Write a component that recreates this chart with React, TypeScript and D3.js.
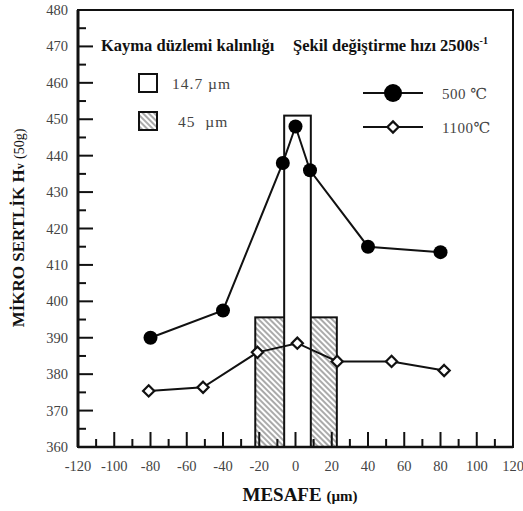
import React from "react";
import * as d3 from "d3";

// 500 °C series (filled circles)
const dist500 = [-80, -40, -7, 0, 8, 40, 80];
const hard500 = [390, 397.5, 438, 448, 436, 415, 413.5];

// 1100 °C series (open diamonds)
const dist1100 = [-81, -51, -21, 1, 23, 53, 82];
const hard1100 = [375.4, 376.4, 386, 388.5, 383.5, 383.5, 381];

// shear band thickness bars
const bandLabels = ["45  µm", "14.7 µm"];
const bandWidths = [45, 14.7];
const bandCenters = [0.3, 1.1];
const bandTops = [395.6, 451];

const xTicks = [-120, -100, -80, -60, -40, -20, 0, 20, 40, 60, 80, 100, 120];
const yTicks = [360, 370, 380, 390, 400, 410, 420, 430, 440, 450, 460, 470, 480];

const W = 523;
const H = 511;
const serif = "Liberation Serif, DejaVu Serif, Times New Roman, serif";

const App = () => {
  const x = d3.scaleLinear().domain([-120, 120]).range([78, 513]);
  const y = d3.scaleLinear().domain([360, 480]).range([447, 10]);

  const s500 = dist500.map((d, i) => ({ x: d, y: hard500[i] }));
  const s1100 = dist1100.map((d, i) => ({ x: d, y: hard1100[i] }));

  const line = d3.line<{ x: number; y: number }>()
    .x(d => x(d.x))
    .y(d => y(d.y));

  const minorX = d3.range(-110, 120, 20);
  const majorX = xTicks.filter(t => t > -120 && t < 120);
  const minorY = d3.range(365, 480, 10);
  const majorY = yTicks.filter(t => t > 360 && t < 480);

  const diamond = d3.symbol().type(d3.symbolDiamond2).size(80);
  const bottom = y(360);

  return (
    <svg width={W} height={H} style={{ position: "absolute", left: 0, top: 0, background: "#fff", fontFamily: serif }}>
      <defs>
        <pattern id="hatch" width="4" height="4" patternUnits="userSpaceOnUse" patternTransform="rotate(-45)">
          <line x1="1" y1="0" x2="1" y2="4" stroke="#555" strokeWidth="1" />
        </pattern>
      </defs>

      {/* bars: wide hatched first, narrow open on top */}
      {bandWidths.map((w, i) => (
        <rect
          key={i}
          x={x(bandCenters[i] - w / 2)}
          y={y(bandTops[i])}
          width={x(w) - x(0)}
          height={bottom - y(bandTops[i])}
          fill={i === 0 ? "url(#hatch)" : "#fff"}
          stroke="#111"
          strokeWidth={2}
        />
      ))}

      {/* frame */}
      <rect x={x(-120)} y={y(480)} width={x(120) - x(-120)} height={bottom - y(480)} fill="none" stroke="#111" strokeWidth={2} />
      <line x1={x(-120)} x2={x(-120)} y1={y(480)} y2={bottom} stroke="#111" strokeWidth={3} />
      <line x1={x(-120)} x2={x(120)} y1={bottom} y2={bottom} stroke="#111" strokeWidth={2.5} />

      {/* x ticks */}
      {majorX.map(t => (
        <line key={"mx" + t} x1={x(t)} x2={x(t)} y1={bottom} y2={bottom - 15} stroke="#111" strokeWidth={2} />
      ))}
      {minorX.map(t => (
        <line key={"nx" + t} x1={x(t)} x2={x(t)} y1={bottom} y2={bottom - 8} stroke="#111" strokeWidth={2} />
      ))}
      {/* y ticks */}
      {majorY.map(t => (
        <line key={"my" + t} x1={x(-120)} x2={x(-120) + 15} y1={y(t)} y2={y(t)} stroke="#111" strokeWidth={2} />
      ))}
      {minorY.map(t => (
        <line key={"ny" + t} x1={x(-120)} x2={x(-120) + 8} y1={y(t)} y2={y(t)} stroke="#111" strokeWidth={2} />
      ))}

      {/* tick labels */}
      {xTicks.map(t => (
        <text key={"tx" + t} x={x(t)} y={471} textAnchor="middle" fontSize={14.5} fill="#444">
          {t}
        </text>
      ))}
      {yTicks.map(t => (
        <text key={"ty" + t} x={68} y={y(t) + 5} textAnchor="end" fontSize={14.5} fill="#444">
          {t}
        </text>
      ))}

      {/* series */}
      <path d={line(s500) || ""} fill="none" stroke="#111" strokeWidth={2} />
      <path d={line(s1100) || ""} fill="none" stroke="#111" strokeWidth={2} />
      {s500.map((d, i) => (
        <circle key={"c" + i} cx={x(d.x)} cy={y(d.y)} r={7} fill="#000" />
      ))}
      {s1100.map((d, i) => (
        <path key={"d" + i} d={diamond() || ""} transform={`translate(${x(d.x)},${y(d.y)})`} fill="#fff" stroke="#111" strokeWidth={2.2} />
      ))}

      {/* legend */}
      <text x={101} y={51} fontSize={16.5} fontWeight="bold" fill="#111">
        Kayma düzlemi kalınlığı
      </text>
      <text x={293} y={51} fontSize={16.5} fontWeight="bold" fill="#111">
        Şekil değiştirme hızı 2500s<tspan dy={-7} fontSize={10}>-1</tspan>
      </text>

      <rect x={139} y={74} width={18} height={18} fill="#fff" stroke="#111" strokeWidth={2} />
      <text x={172} y={89} fontSize={15.5} fill="#444" letterSpacing={1}>{bandLabels[1]}</text>
      <rect x={139} y={112} width={18} height={18} fill="url(#hatch)" stroke="#111" strokeWidth={2} />
      <text x={178} y={127} fontSize={15.5} fill="#444" letterSpacing={1} style={{ whiteSpace: "pre" }}>{bandLabels[0]}</text>

      <line x1={363} x2={423} y1={93} y2={93} stroke="#111" strokeWidth={2} />
      <circle cx={393} cy={93} r={9} fill="#000" />
      <text x={442} y={99} fontSize={15} fill="#444" letterSpacing={0.5}>500 ℃</text>
      <line x1={363} x2={423} y1={127} y2={127} stroke="#111" strokeWidth={2} />
      <path d={diamond() || ""} transform="translate(393,127)" fill="#fff" stroke="#111" strokeWidth={2.2} />
      <text x={442} y={133} fontSize={15} fill="#444" letterSpacing={0.5}>1100℃</text>

      {/* axis titles */}
      <text x={300} y={501} textAnchor="middle" fontSize={19} fontWeight="bold" fill="#111">
        MESAFE <tspan fontSize={15}>(µm)</tspan>
      </text>
      <text
        transform={`translate(24,${228}) rotate(-90)`}
        textAnchor="middle"
        fontSize={17}
        fontWeight="bold"
        fill="#111"
      >
        MİKRO SERTLİK H<tspan fontSize={12}>v</tspan> <tspan fontWeight="normal" fontSize={14}>(50g)</tspan>
      </text>
    </svg>
  );
};

export default App;
